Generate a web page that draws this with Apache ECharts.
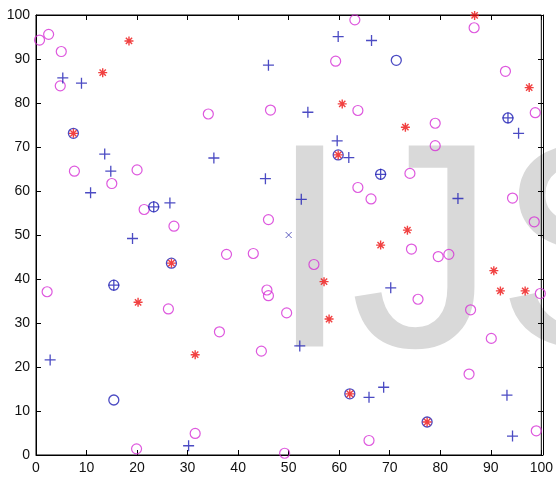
<!DOCTYPE html>
<html>
<head>
<meta charset="utf-8">
<script src="https://cdn.jsdelivr.net/npm/echarts@6/dist/echarts.min.js"></script>
<style>
html,body{margin:0;padding:0;background:#fff;}
#chart{width:556px;height:478px;}
</style>
</head>
<body>
<div id="chart"></div>
<script>
// Axis ticks
const xTicks = [0,10,20,30,40,50,60,70,80,90,100];
const yTicks = [0,10,20,30,40,50,60,70,80,90,100];

// Magenta circles
const circleX = [0.7,2.5,5.0,4.8,63.1,59.3,34.1,46.4,63.7,86.7,92.9,98.8,79.0,79.0,7.6,20.0,15.0,21.4,27.3,2.2,26.2,63.7,46.0,37.7,43.0,55.0,45.7,46.0,49.6,66.3,74.0,94.3,98.6,74.3,79.6,81.7,99.8,75.6,86.0,19.9,36.3,44.6,31.5,49.2,65.9,90.1,85.7,99.0];
const circleY = [94.3,95.6,91.7,83.9,98.9,89.5,77.5,78.4,78.3,97.1,87.2,77.8,75.4,70.3,64.5,64.8,61.7,55.8,52.0,37.1,33.2,60.8,53.5,45.6,45.8,43.3,37.5,36.2,32.3,58.2,64.0,58.4,53.0,46.8,45.1,45.6,36.7,35.4,33.0,1.4,28.0,23.6,4.9,0.4,3.3,26.5,18.4,5.5];

// Blue plus markers
const plusX = [5.3,9.0,13.6,59.8,66.4,46.0,53.8,59.6,61.9,35.2,95.5,93.4,14.8,10.8,23.3,26.5,19.1,15.4,45.4,52.5,68.2,83.5,70.2,2.8,30.2,52.2,68.8,65.9,93.2,94.3];
const plusY = [85.7,84.5,68.4,95.1,94.2,88.6,77.9,71.4,67.6,67.5,73.1,76.6,64.5,59.6,56.4,57.3,49.2,38.6,62.8,58.1,63.8,58.3,38.0,21.6,2.1,24.8,15.4,13.1,13.6,4.3];

// Red asterisks
const starX = [18.4,13.2,7.4,60.6,59.8,86.8,97.6,73.1,26.8,20.2,57.0,73.5,68.2,90.6,91.9,96.8,58.0,31.5,62.1,77.4];
const starY = [94.1,86.9,73.1,79.8,68.2,99.9,83.5,74.5,43.6,34.7,39.4,51.1,47.7,41.9,37.3,37.3,30.9,22.8,13.9,7.5];

// Blue circles
const bcircleX = [7.4,26.8,59.8,62.1,77.4,23.3,15.4,68.2,93.4,71.3,15.4];
const bcircleY = [73.1,43.6,68.2,13.9,7.5,56.4,38.6,63.8,76.6,89.7,12.5];

// Blue x marker
const crossX = [50];
const crossY = [50];

const zip = (a,b) => a.map((v,i)=>[v,b[i]]);

const chart = echarts.init(document.getElementById('chart'), null, {renderer:'canvas'});

function axis(extra){
  return Object.assign({
    type:'value', min:0, max:100, interval:10,
    splitLine:{show:false},
    axisLine:{show:true, onZero:false, lineStyle:{color:'#000', width:1}},
    axisTick:{show:true, inside:true, length:5, lineStyle:{color:'#000', width:1}}
  }, extra);
}
const labelStyle = {color:'#111', fontFamily:'"Liberation Sans", Arial, sans-serif', fontSize:14};

const PLUS = 'path://M0,-5L0,5M-5,0L5,0';
const STAR = 'path://M0,-5L0,5M-5,0L5,0M-3.5,-3.5L3.5,3.5M-3.5,3.5L3.5,-3.5';
const XMARK = 'path://M-5,-5L5,5M-5,5L5,-5';

const base = {type:'scatter', silent:true, emphasis:{disabled:true}, xAxisIndex:0, yAxisIndex:0};
const gridRect = {left:36, right:13, top:15, bottom:23, containLabel:false};

chart.setOption({
  animation:false,
  backgroundColor:'#fff',
  grid:[
    Object.assign({show:true, borderColor:'#000', borderWidth:1, backgroundColor:'transparent'}, gridRect),
    Object.assign({show:false}, gridRect)
  ],
  graphic:[{
    type:'text', z:-10, silent:true,
    x:269, y:266,
    style:{text:'IJS', font:'292px "Liberation Sans"', fill:'#d9d9d9', verticalAlign:'middle', align:'left'}
  }],
  xAxis:[
    axis({gridIndex:0, position:'bottom', axisLabel:Object.assign({show:true, margin:6, formatter:(v)=> xTicks.includes(v)? String(v):''}, labelStyle)}),
    axis({gridIndex:0, position:'top', axisLabel:{show:false}}),
    axis({gridIndex:1, position:'top', show:false})
  ],
  yAxis:[
    axis({gridIndex:0, position:'left', axisLabel:Object.assign({show:true, margin:6, formatter:(v)=> yTicks.includes(v)? String(v):''}, labelStyle)}),
    axis({gridIndex:1, position:'right', axisLabel:{show:false}})
  ],
  series:[
    Object.assign({}, base, {data:zip(circleX,circleY), symbol:'circle', symbolSize:10,
      itemStyle:{color:'none', borderColor:'#d62ed6', borderWidth:1.2}}),
    Object.assign({}, base, {data:zip(bcircleX,bcircleY), symbol:'circle', symbolSize:10,
      itemStyle:{color:'none', borderColor:'#1e1eb4', borderWidth:1.3}}),
    Object.assign({}, base, {data:zip(plusX,plusY), symbol:PLUS, symbolSize:11,
      itemStyle:{color:'none', borderColor:'#1e1eb4', borderWidth:1.3}}),
    Object.assign({}, base, {data:zip(starX,starY), symbol:STAR, symbolSize:9,
      itemStyle:{color:'none', borderColor:'#ee1111', borderWidth:1.4}}),
    Object.assign({}, base, {data:zip(crossX,crossY), symbol:XMARK, symbolSize:6,
      itemStyle:{color:'none', borderColor:'#3a3ab0', borderWidth:1}}),
    {type:'scatter', silent:true, xAxisIndex:1, yAxisIndex:0, data:[[-50,-50]], symbolSize:0},
    {type:'scatter', silent:true, xAxisIndex:2, yAxisIndex:1, data:[[-50,-50]], symbolSize:0}
  ]
});
</script>
</body>
</html>
